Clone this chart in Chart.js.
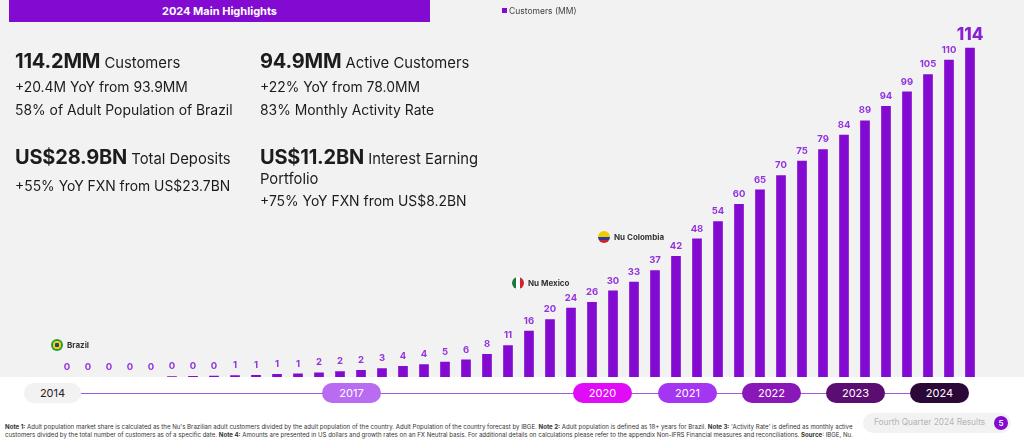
<!DOCTYPE html>
<html>
<head>
<meta charset="utf-8">
<script src="https://cdn.jsdelivr.net/npm/chart.js@4.4.1/dist/chart.umd.min.js"></script>
<style>
  html, body { margin: 0; padding: 0; }
  body { width: 1024px; height: 443px; position: relative; overflow: hidden; background: #fff; font-family: Inter, "Noto Sans", sans-serif; color: #1c1c1c; }
  #bg { position: absolute; left: 0; top: 0; width: 1024px; height: 377px; background: #f2f2f3; }
  #wrap { position: absolute; left: 0; top: 0; width: 1024px; height: 377px; }
  .abs { position: absolute; white-space: nowrap; }
  #header { left: 9px; top: 0; width: 421px; height: 22px; background: #820ad1; color: #fff; font-weight: 700; font-size: 11px; line-height: 22px; text-align: center; }
  #legend { left: 502px; top: 6px; font-size: 8.5px; color: #444; }
  #legend i { display: inline-block; width: 5px; height: 5px; background: #820ad1; margin-right: 2px; vertical-align: 1px; }
  .big { font-weight: 700; font-size: 20px; letter-spacing: -0.2px; }
  .kpi { font-size: 14.8px; }
  .line { font-size: 13.9px; }
  .flag { position: absolute; width: 12px; height: 12px; border-radius: 50%; overflow: hidden; }
  .fl { font-size: 8px; font-weight: 700; color: #333; }
  .pill { position: absolute; top: 383px; height: 20px; line-height: 20px; width: 59px; border-radius: 10px; text-align: center; font-size: 11px; color: #fff; }
  #tl { left: 80px; top: 393px; width: 880px; height: 1px; background: #a45ad8; }
  .note { left: 5px; font-size: 6.1px; color: #333; }
  #foot { left: 863px; top: 413px; width: 148px; height: 20px; border-radius: 10px; background: #f2f2f2; }
  #foottxt { left: 874px; top: 417px; font-size: 8.3px; color: #b4b4b4; }
  #pg { left: 994px; top: 416px; width: 14px; height: 14px; border-radius: 50%; background: #820ad1; color: #fff; font-size: 8px; text-align: center; line-height: 14px; font-weight: 600; }
</style>
</head>
<body>
<div id="bg"></div>
<div id="wrap"><canvas id="chart"></canvas></div>

<div class="abs" id="header">2024 Main Highlights</div>
<div class="abs" id="legend"><i></i>Customers (MM)</div>

<div class="abs kpi" style="left:15px;top:49px;"><span class="big">114.2MM</span> Customers</div>
<div class="abs line" style="left:15px;top:79px;">+20.4M YoY from 93.9MM</div>
<div class="abs line" style="left:15px;top:102px;">58% of Adult Population of Brazil</div>
<div class="abs kpi" style="left:15px;top:145px;"><span class="big">US$28.9BN</span> Total Deposits</div>
<div class="abs line" style="left:15px;top:178px;">+55% YoY FXN from US$23.7BN</div>

<div class="abs kpi" style="left:260px;top:49px;"><span class="big">94.9MM</span> Active Customers</div>
<div class="abs line" style="left:260px;top:79px;">+22% YoY from 78.0MM</div>
<div class="abs line" style="left:260px;top:102px;">83% Monthly Activity Rate</div>
<div class="abs kpi" style="left:260px;top:145px;"><span class="big">US$11.2BN</span> Interest Earning</div>
<div class="abs kpi" style="left:260px;top:170px;">Portfolio</div>
<div class="abs line" style="left:260px;top:193px;">+75% YoY FXN from US$8.2BN</div>

<div class="flag" style="left:51px;top:339px;background:radial-gradient(circle,#2a3f9a 0 2px,#f5d000 2.5px 4px,#1f9e3a 4.5px);"></div>
<div class="abs fl" style="left:67px;top:340px;">Brazil</div>
<div class="flag" style="left:512px;top:277px;background:linear-gradient(90deg,#1b7a3b 0 33%,#fff 33% 67%,#d2222d 67%);"></div>
<div class="abs fl" style="left:528px;top:278px;">Nu Mexico</div>
<div class="flag" style="left:598px;top:231px;background:linear-gradient(180deg,#f5c900 0 50%,#2a3e96 50% 75%,#d2222d 75%);"></div>
<div class="abs fl" style="left:614px;top:232px;">Nu Colombia</div>

<div class="abs" id="tl"></div>
<div class="pill" style="left:24px;width:57px;background:#f2f2f2;color:#222;">2014</div>
<div class="pill" style="left:322px;background:#b96cf2;">2017</div>
<div class="pill" style="left:573px;background:#e10cf7;">2020</div>
<div class="pill" style="left:658px;background:#a435f0;">2021</div>
<div class="pill" style="left:742px;background:#8a17b8;">2022</div>
<div class="pill" style="left:826px;background:#5c0d72;">2023</div>
<div class="pill" style="left:910px;background:#2c0838;">2024</div>

<div class="abs note" style="top:423px;"><b>Note 1:</b> Adult population market share is calculated as the Nu's Brazilian adult customers divided by the adult population of the country. Adult Population of the country forecast by IBGE. <b>Note 2:</b> Adult population is defined as 18+ years for Brazil. <b>Note 3:</b> 'Activity Rate' is defined as monthly active</div>
<div class="abs note" style="top:431px;">customers divided by the total number of customers as of a specific date. <b>Note 4:</b> Amounts are presented in US dollars and growth rates on an FX Neutral basis. For additional details on calculations please refer to the appendix Non-IFRS Financial measures and reconciliations. <b>Source</b>: IBGE, Nu.</div>

<div class="abs" id="foot"></div>
<div class="abs" id="foottxt">Fourth Quarter 2024 Results</div>
<div class="abs" id="pg">5</div>

<script>
// quarters 1Q14 .. 4Q24
const years = ['14', '15', '16', '17', '18', '19', '20', '21', '22', '23', '24'];
const quarters = [];
years.forEach(y => { for (let q = 1; q <= 4; q++) quarters.push(q + 'Q' + y); });

// customers in millions
const customers = [
  0, 0, 0, 0, 0, 0.3, 0.35, 0.4, 0.6, 0.7, 1.0, 1.2,
  1.6, 2.0, 2.4, 3.0, 3.8, 4.4, 5.3, 6.1, 8.0, 11.0,
  16, 20, 24, 26, 30, 33, 37, 42, 48, 54,
  60, 65, 70, 75, 79, 84, 89, 94, 99, 105, 110, 114.2
];

const barColor = '#820ad1';
const labelColor = '#9333dd';

// value labels over the bars
const valueLabels = {
  id: 'valueLabels',
  afterDatasetsDraw(chart) {
    const ctx = chart.ctx;
    const meta = chart.getDatasetMeta(0);
    ctx.save();
    ctx.textAlign = 'center';
    ctx.textBaseline = 'bottom';
    meta.data.forEach((bar, i) => {
      const last = i === customers.length - 1;
      ctx.fillStyle = last ? '#8a1fd6' : labelColor;
      ctx.font = last ? '800 17px Inter' : '700 9.5px Inter';
      ctx.fillText(Math.round(customers[i]), bar.x, bar.y - (last ? 4 : 5));
    });
    ctx.restore();
  }
};

const ctx = document.getElementById('chart').getContext('2d');
const customersChart = new Chart(ctx, {
  type: 'bar',
  data: {
    labels: quarters,
    datasets: [
      {
        label: 'Customers (MM)',
        data: customers,
        backgroundColor: barColor,
        barPercentage: 0.46,
        categoryPercentage: 1,
      },
    ],
  },
  options: {
    responsive: true,
    maintainAspectRatio: false,
    animation: false,
    layout: { padding: { left: 56.5, right: 43.5, top: 31, bottom: 0 } },
    plugins: { legend: { display: false }, tooltip: { enabled: false } },
    scales: {
      x: { display: false },
      y: { display: false, min: 0, max: 120 },
    },
  },
  plugins: [valueLabels],
});
</script>
</body>
</html>
